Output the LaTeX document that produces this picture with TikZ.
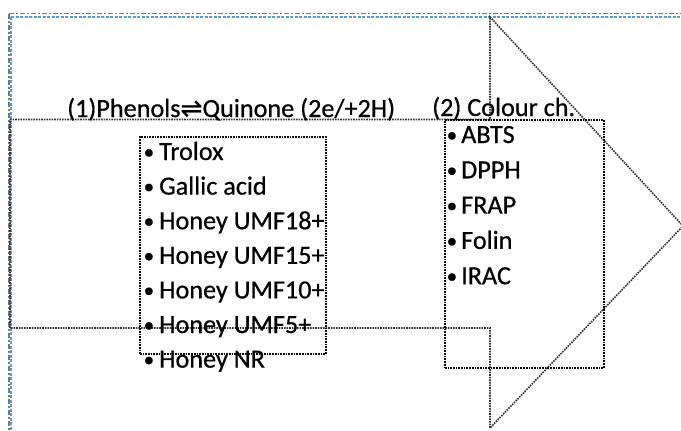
\documentclass[tikz,border=0pt]{standalone}
\usepackage{fontspec}
\setmainfont[FakeBold=0.6]{Carlito}
\newfontfamily\symfont[FakeBold=0.6]{DejaVu Sans}
\definecolor{pageblue}{RGB}{91,155,213}
\definecolor{pagegray}{RGB}{120,120,120}
\newcommand{\bul}[1]{\makebox[#1][l]{\hspace{1.5pt}\raisebox{1.2pt}{\scalebox{0.8}{•}}}}
\begin{document}
\begin{tikzpicture}[x=1pt,y=-1pt,
  txt/.style={font=\fontsize{26.2}{28}\selectfont, inner sep=0pt, anchor=base west},
  itembox/.style={draw=black, densely dotted, line width=1.7pt},
  arrowline/.style={draw=black!80, densely dotted, line width=1.6pt},
  bordergray/.style={draw=pagegray, dash pattern=on 5pt off 2pt on 2pt off 2pt, line width=1.2pt},
  borderblue/.style={draw=pageblue, dash pattern=on 3pt off 1.5pt, line width=1.8pt}]
\useasboundingbox (0,0) rectangle (681,431);
\begin{scope}
\clip (0,0) rectangle (681,431);
% page border
\draw[bordergray] (9,13.5) -- (681,13.5);
\draw[bordergray] (9,13.5) -- (9,431);
\draw[borderblue] (11,17) -- (681,17);
\draw[borderblue] (11,17) -- (11,431);
% block arrow
\draw[arrowline] (10,119.5) -- (490,119.5) -- (490,17) -- (683,226) -- (490,428) -- (490,328) -- (10,328) -- cycle;
\end{scope}
% boxes
\node[itembox, inner sep=0pt, minimum width=186pt, minimum height=217pt, anchor=north west] (box1) at (139,136) {};
\node[itembox, inner sep=0pt, minimum width=159pt, minimum height=248pt, anchor=north west] (box2) at (444,119) {};
% titles
\node[txt] (t1) at (67,117) {(1)Phenols{\symfont ⇌}Quinone (2e/+2H)};
\node[txt] (t2) at (432,116) {(2) Colour ch.};
% list 1
\foreach \lbl [count=\i from 0] in {Trolox,Gallic acid,Honey UMF18+,Honey UMF15+,Honey UMF10+,Honey UMF5+,Honey NR}{
  \node[txt] (a\i) at (142,{160+34.6*\i}) {\bul{17pt}\lbl};
}
% list 2
\foreach \lbl [count=\i from 0] in {ABTS,DPPH,FRAP,Folin,IRAC}{
  \node[txt] (b\i) at (445,{143+35.3*\i}) {\bul{16pt}\lbl};
}
\end{tikzpicture}
\end{document}
